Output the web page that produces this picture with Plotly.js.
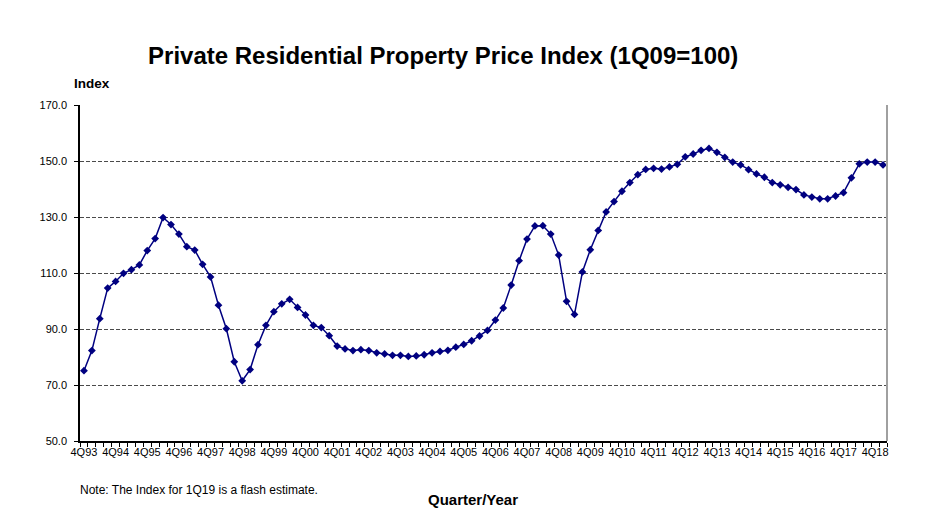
<!DOCTYPE html>
<html>
<head>
<meta charset="utf-8">
<script src="https://cdn.plot.ly/plotly-3.0.1.min.js"></script>
<style>html,body{margin:0;padding:0;background:#fff;}#chart{width:947px;height:518px;}</style>
</head>
<body>
<div id="chart"></div>
<script>
// Quarters from 4Q93 to 1Q19
const quarters = (function(){
  const q = ["4Q93"];
  for (let y = 1994; y <= 2018; y++) {
    const yy = String(y % 100).padStart(2, "0");
    for (let k = 1; k <= 4; k++) q.push(k + "Q" + yy);
  }
  q.push("1Q19");
  return q;
})();

const indexValues = [
  75.1, 82.3, 93.7, 104.6, 107.0, 109.9, 111.2, 112.9, 118.0, 122.3,
  129.8, 127.3, 123.9, 119.4, 118.2, 113.1, 108.6, 98.5, 90.1, 78.3,
  71.5, 75.5, 84.4, 91.3, 96.2, 99.0, 100.6, 97.7, 95.0, 91.3,
  90.5, 87.6, 83.9, 82.9, 82.3, 82.6, 82.3, 81.5, 81.1, 80.6,
  80.6, 80.2, 80.4, 80.8, 81.5, 82.0, 82.4, 83.5, 84.5, 85.8,
  87.5, 89.5, 93.2, 97.5, 105.7, 114.4, 122.1, 126.8, 126.9, 123.9,
  116.4, 99.9, 95.2, 110.4, 118.3, 125.2, 131.8, 135.5, 139.2, 142.3,
  145.1, 147.0, 147.4, 147.1, 147.9, 148.8, 151.5, 152.5, 153.8, 154.5,
  153.1, 151.3, 149.6, 148.6, 146.9, 145.4, 144.2, 142.3, 141.5, 140.6,
  139.8, 137.9, 137.1, 136.5, 136.5, 137.5, 138.7, 144.0, 149.0, 149.6,
  149.6, 148.6
];

const yTicks = [50, 70, 90, 110, 130, 150, 170];
const yTickText = ["50.0", "70.0", "90.0", "110.0", "130.0", "150.0", "170.0"];

const xIdx = quarters.map((_, i) => i);
const labelIdx = xIdx.filter(i => quarters[i].startsWith("4Q"));
const labelText = labelIdx.map(i => quarters[i]);
const minorTicks = xIdx.concat([quarters.length]).map(i => i - 0.5);

const trace = {
  x: xIdx,
  y: indexValues,
  text: quarters,
  type: "scatter",
  mode: "lines+markers",
  line: {color: "#000080", width: 1.5},
  marker: {symbol: "diamond", size: 6, color: "#000080"},
  hovertemplate: "%{text}: %{y:.1f}<extra></extra>"
};

const layout = {
  width: 947, height: 518,
  margin: {l: 80, r: 60, t: 105, b: 77},
  paper_bgcolor: "#fff", plot_bgcolor: "#fff",
  showlegend: false,
  font: {family: "Liberation Sans, Arial, sans-serif", color: "#000"},
  title: {
    text: "<b>Private Residential Property Price Index (1Q09=100)</b>",
    font: {size: 24, family: "Liberation Sans, Arial, sans-serif", color: "#000"},
    x: 0.468, xanchor: "center", y: 0.892, yanchor: "middle"
  },
  xaxis: {
    range: [-0.5, quarters.length - 0.5],
    tickmode: "array", tickvals: labelIdx, ticktext: labelText,
    ticks: "", tickfont: {size: 11},
    showgrid: false, zeroline: false,
    showline: true, linecolor: "#000", linewidth: 1.5,
    minor: {tickmode: "array", tickvals: minorTicks, ticks: "outside", ticklen: 4, tickcolor: "#000", tickwidth: 1, showgrid: false},
    fixedrange: true
  },
  yaxis: {
    range: [50, 170],
    tickmode: "array", tickvals: yTicks, ticktext: yTickText,
    ticks: "outside", ticklen: 4, tickcolor: "#000", tickfont: {size: 11},
    ticklabelstandoff: 5,
    showgrid: true, gridcolor: "#4a4a4a", gridwidth: 1, griddash: "4px,2px",
    zeroline: false, showline: true, linecolor: "#000", linewidth: 1.5,
    fixedrange: true
  },
  shapes: [
    {type: "line", xref: "paper", yref: "paper", x0: 1, x1: 1, y0: 0, y1: 1,
     line: {color: "#a0a0a0", width: 2}}
  ],
  annotations: [
    {text: "<b>Index</b>", xref: "paper", yref: "paper", x: -0.01, y: 1.063,
     xanchor: "left", yanchor: "middle", showarrow: false, font: {size: 13.5}},
    {text: "Note: The Index for 1Q19 is a flash estimate.", xref: "paper", yref: "paper",
     x: -0.003, y: -0.145, xanchor: "left", yanchor: "middle", showarrow: false, font: {size: 12}},
    {text: "<b>Quarter/Year</b>", xref: "paper", yref: "paper", x: 0.487, y: -0.175,
     xanchor: "center", yanchor: "middle", showarrow: false, font: {size: 15}}
  ]
};

Plotly.newPlot("chart", [trace], layout, {displayModeBar: false});
</script>
</body>
</html>
